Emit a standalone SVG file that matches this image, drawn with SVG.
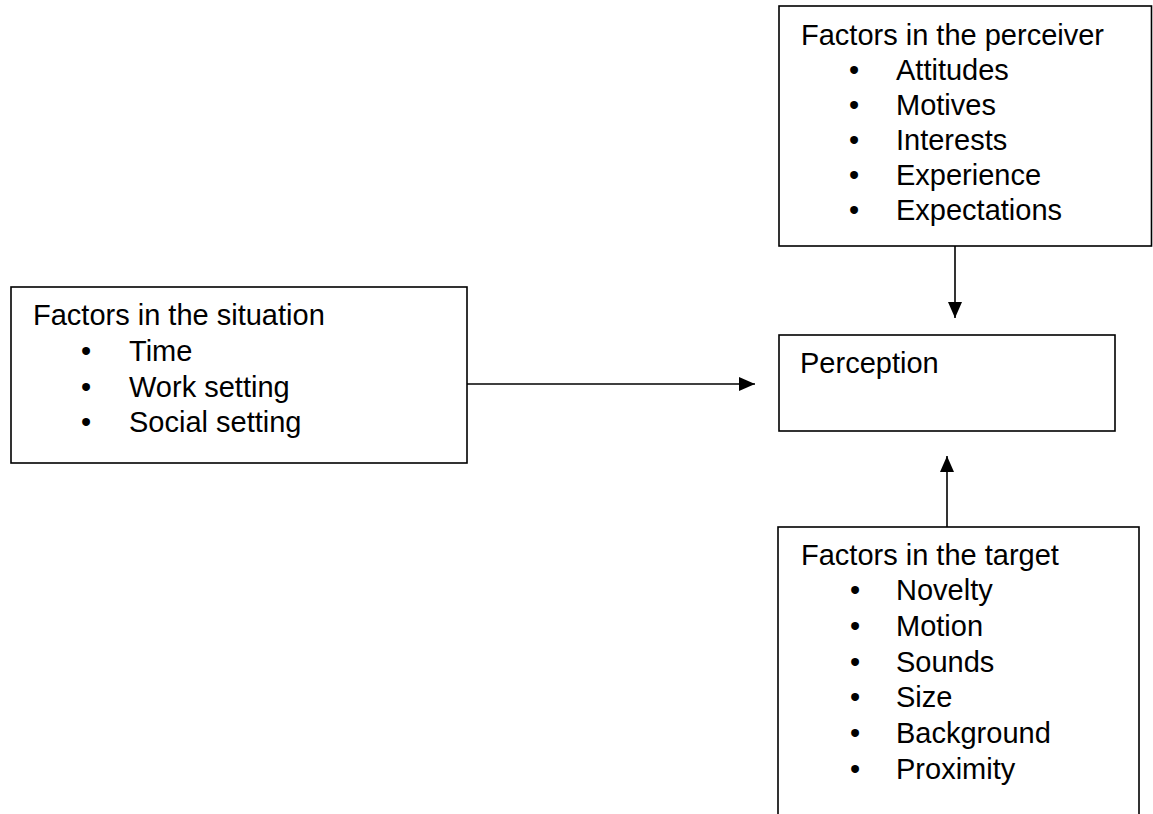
<svg xmlns="http://www.w3.org/2000/svg" width="1153" height="814" viewBox="0 0 1153 814">
<defs>
<style>
.box{fill:#fff;stroke:#000;stroke-width:1.6}
.t{font-family:"Liberation Sans",Arial,sans-serif;font-size:29px;fill:#000}
.b{font-family:"Liberation Sans",Arial,sans-serif;font-size:29px;fill:#000;text-anchor:middle}
.c{stroke:#000;stroke-width:1.6;fill:none}
</style>
<marker id="ah" markerWidth="16" markerHeight="14" refX="16" refY="7" orient="auto" markerUnits="userSpaceOnUse">
<path d="M0,0 L16,7 L0,14 Z" fill="#000"/>
</marker>
</defs>
<rect width="1153" height="814" fill="#fff"/>
<g id="connectors">
<line class="c" x1="955" y1="246" x2="955" y2="318" marker-end="url(#ah)"/>
<line class="c" x1="467" y1="384" x2="755" y2="384" marker-end="url(#ah)"/>
<line class="c" x1="947" y1="527" x2="947" y2="456" marker-end="url(#ah)"/>
</g>
<g id="perceiver">
<rect class="box" x="779" y="6" width="372.5" height="240"/>
<text class="t" x="801" y="45">Factors in the perceiver</text>
<text class="b" x="854" y="80">•</text><text class="t" x="896" y="80">Attitudes</text>
<text class="b" x="854" y="115">•</text><text class="t" x="896" y="115">Motives</text>
<text class="b" x="854" y="150">•</text><text class="t" x="896" y="150">Interests</text>
<text class="b" x="854" y="185">•</text><text class="t" x="896" y="185">Experience</text>
<text class="b" x="854" y="220">•</text><text class="t" x="896" y="220">Expectations</text>
</g>
<g id="situation">
<rect class="box" x="11" y="287" width="456" height="176"/>
<text class="t" x="33" y="325">Factors in the situation</text>
<text class="b" x="86" y="361">•</text><text class="t" x="129" y="361">Time</text>
<text class="b" x="86" y="397">•</text><text class="t" x="129" y="397">Work setting</text>
<text class="b" x="86" y="432">•</text><text class="t" x="129" y="432">Social setting</text>
</g>
<g id="perception">
<rect class="box" x="779" y="335" width="336" height="96"/>
<text class="t" x="800" y="373">Perception</text>
</g>
<g id="target">
<rect class="box" x="778" y="527" width="361" height="310"/>
<text class="t" x="801" y="565">Factors in the target</text>
<text class="b" x="855" y="600">•</text><text class="t" x="896" y="600">Novelty</text>
<text class="b" x="855" y="636">•</text><text class="t" x="896" y="636">Motion</text>
<text class="b" x="855" y="672">•</text><text class="t" x="896" y="672">Sounds</text>
<text class="b" x="855" y="707">•</text><text class="t" x="896" y="707">Size</text>
<text class="b" x="855" y="743">•</text><text class="t" x="896" y="743">Background</text>
<text class="b" x="855" y="779">•</text><text class="t" x="896" y="779">Proximity</text>
</g>
</svg>
